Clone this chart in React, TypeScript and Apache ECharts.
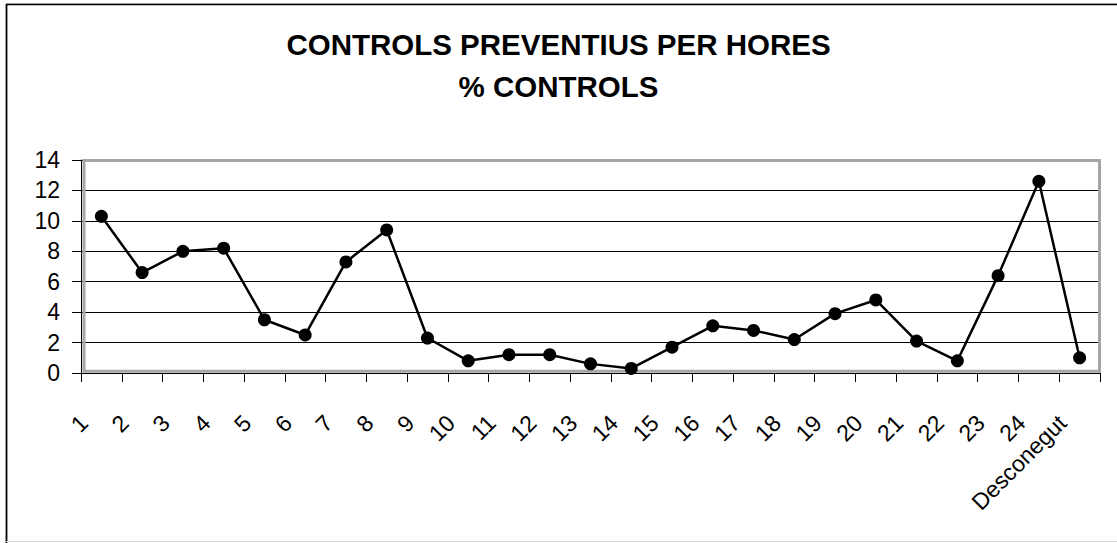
import React, { useEffect, useRef } from "react";
import * as echarts from "echarts";

const titleLine1 = "CONTROLS PREVENTIUS PER HORES";
const titleLine2 = "% CONTROLS";
const hours = ["1", "2", "3", "4", "5", "6", "7", "8", "9", "10", "11", "12", "13", "14", "15", "16", "17", "18", "19", "20", "21", "22", "23", "24", "Desconegut"];
const pctControls = [10.3, 6.6, 8.0, 8.2, 3.5, 2.5, 7.3, 9.4, 2.3, 0.8, 1.2, 1.2, 0.6, 0.3, 1.7, 3.1, 2.8, 2.2, 3.9, 4.8, 2.1, 0.8, 6.4, 12.6, 1.0];
const yMin = 0;
const yMax = 14;
const yStep = 2;

const FONT = "'Liberation Sans', Arial, sans-serif";

export default function App() {
  const ref = useRef<HTMLDivElement>(null);
  useEffect(() => {
    if (!ref.current) return;
    const chart = echarts.init(ref.current, null, { renderer: "svg" });
    const titleStyle = { fontFamily: FONT, fontWeight: "bold" as const, fontSize: 29.5, color: "#000" };
    chart.setOption({
      animation: false,
      backgroundColor: "#fff",
      title: [
        { text: titleLine1, left: "center", top: 24, textStyle: titleStyle },
        { text: titleLine2, left: "center", top: 66, textStyle: titleStyle },
      ],
      grid: [
        { left: 81, right: 17, top: 160, bottom: 170, show: false },
        { left: 84, right: 14, top: 160, bottom: 170, show: false },
      ],
      xAxis: [
        {
          type: "category",
          gridIndex: 0,
          data: hours,
          boundaryGap: true,
          position: "bottom",
          axisLine: { show: true, lineStyle: { color: "#000", width: 1 } },
          axisTick: { show: true, interval: 0, length: 9, lineStyle: { color: "#000", width: 1 } },
          axisLabel: { show: false, interval: 0 },
          splitLine: { show: false },
        },
        {
          type: "category",
          gridIndex: 1,
          data: [...hours, ""],
          boundaryGap: false,
          position: "bottom",
          axisLine: { show: false },
          axisTick: { show: false },
          splitLine: { show: false },
          axisLabel: { show: true, interval: 0, rotate: 45, margin: 46, fontSize: 23, fontFamily: FONT, color: "#000" },
        },
      ],
      yAxis: [
        {
          type: "value",
          gridIndex: 0,
          min: yMin,
          max: yMax,
          interval: yStep,
          axisLine: { show: true, lineStyle: { color: "#000", width: 1 } },
          axisTick: { show: true, length: 9, lineStyle: { color: "#000", width: 1 } },
          axisLabel: { margin: 21, fontSize: 23, fontFamily: FONT, color: "#000" },
          splitLine: { show: true, lineStyle: { color: "#000", width: 1 } },
        },
        { type: "value", gridIndex: 1, min: yMin, max: yMax, show: false },
      ],
      series: [
        {
          type: "line",
          xAxisIndex: 0,
          yAxisIndex: 0,
          data: pctControls,
          symbol: "circle",
          symbolSize: 13,
          lineStyle: { color: "#000", width: 2.5 },
          itemStyle: { color: "#000" },
          z: 5,
        },
      ],
      graphic: [
        {
          type: "rect",
          z: 1,
          shape: { x: 84, y: 160.5, width: 1015.5, height: 210.8 },
          style: { fill: "none", stroke: "#a6a6a6", lineWidth: 3 },
        },
        { type: "line", shape: { x1: 6, y1: 3.5, x2: 1117, y2: 3.5 }, style: { stroke: "#cfcfcf", lineWidth: 1 } },
        { type: "line", shape: { x1: 6, y1: 4.5, x2: 1117, y2: 4.5 }, style: { stroke: "#000", lineWidth: 1.5 } },
        { type: "line", shape: { x1: 6.5, y1: 4, x2: 6.5, y2: 543 }, style: { stroke: "#000", lineWidth: 1.8 } },
        { type: "line", shape: { x1: 6, y1: 541.5, x2: 1117, y2: 541.5 }, style: { stroke: "#d6d6d6", lineWidth: 1 } },
      ],
    });
    return () => chart.dispose();
  }, []);
  return <div ref={ref} style={{ position: "absolute", left: 0, top: 0, width: 1117, height: 543 }} />;
}
